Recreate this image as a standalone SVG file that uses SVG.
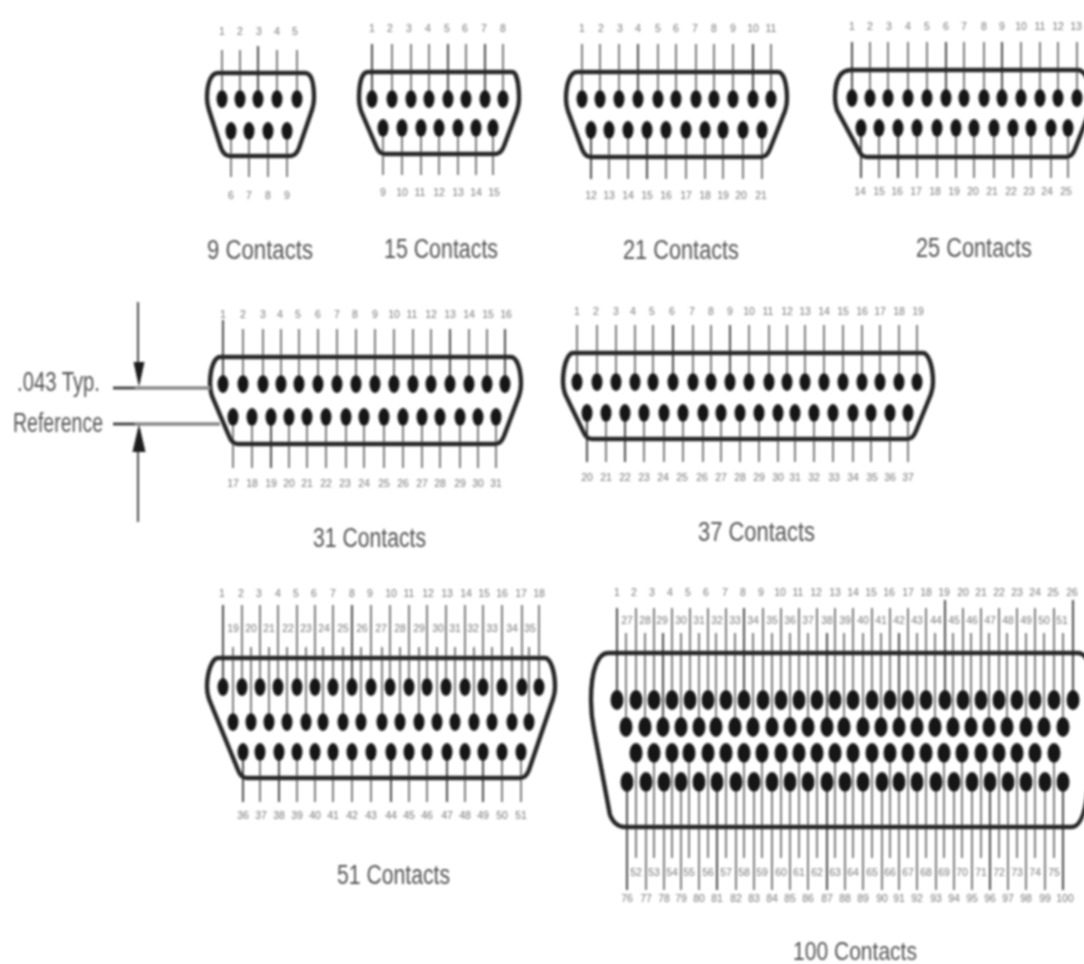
<svg xmlns="http://www.w3.org/2000/svg" width="1084" height="964" viewBox="0 0 1084 964">
<style>
text{font-family:"Liberation Sans",Arial,sans-serif}
.n text{font-size:10.5px;fill:#777;text-anchor:middle}
.cap{font-size:27px;fill:#555}
.s{fill:none;stroke:#262626;stroke-width:4.4}
.l{fill:none;stroke:#6a6a6a;stroke-width:1.7}
.d{fill:none;stroke:#222;stroke-width:1.6}
.pin{fill:#141414}
</style>
<defs>
<ellipse id="p" class="pin" rx="5.5" ry="9"/>
<ellipse id="q" class="pin" rx="6.5" ry="10"/>
<filter id="b" x="0" y="0" width="1" height="1"><feGaussianBlur stdDeviation="0.8"/></filter>
</defs>
<rect width="1084" height="964" fill="#fff"/>
<g filter="url(#b)">
<g id="c9">
<path class="l" d="M222 50V99M240 50V99M277 50V99M297 50V99M231 131V177M249 131V177M268 131V177M287 131V177"/>
<path class="d" d="M258 46V99"/>
<path class="s" d="M218 73H305C311 73 314 81 314 98Q314 104 312 110L299 148Q296 156 290 156H230Q224 156 221 148L209 110Q207 104 207 98C207 81 212 73 218 73Z"/>
<use href="#p" x="222" y="99"/><use href="#p" x="240" y="99"/><use href="#p" x="258" y="99"/><use href="#p" x="277" y="99"/><use href="#p" x="297" y="99"/>
<use href="#p" x="231" y="131"/><use href="#p" x="249" y="131"/><use href="#p" x="268" y="131"/><use href="#p" x="287" y="131"/>
<g class="n"><text x="222" y="35">1</text><text x="240" y="35">2</text><text x="259" y="35">3</text><text x="277" y="35">4</text><text x="295" y="35">5</text><text x="231" y="199">6</text><text x="249" y="199">7</text><text x="268" y="199">8</text><text x="287" y="199">9</text></g>
<text class="cap" x="207" y="259" textLength="106" lengthAdjust="spacingAndGlyphs">9 Contacts</text>
</g>
<g id="c15">
<path class="l" d="M392 44V99M411 44V99M429 44V99M466 44V99M503 44V99M383 128V175M402 128V175M421 128V175M439 128V175M458 128V175M476 128V175M493 128V175"/>
<path class="d" d="M372 44V99M448 44V99M485 44V99"/>
<path class="s" d="M368 72H512C516 72 519 82 519 99Q519 105 517 111L504 146Q501 154 495 154H385Q379 154 376 146L361 111Q359 105 359 99C359 82 362 72 368 72Z"/>
<use href="#p" x="372" y="99"/><use href="#p" x="392" y="99"/><use href="#p" x="411" y="99"/><use href="#p" x="429" y="99"/><use href="#p" x="448" y="99"/><use href="#p" x="466" y="99"/><use href="#p" x="485" y="99"/><use href="#p" x="503" y="99"/>
<use href="#p" x="383" y="128"/><use href="#p" x="402" y="128"/><use href="#p" x="421" y="128"/><use href="#p" x="439" y="128"/><use href="#p" x="458" y="128"/><use href="#p" x="476" y="128"/><use href="#p" x="493" y="128"/>
<g class="n"><text x="372" y="32">1</text><text x="390" y="32">2</text><text x="409" y="32">3</text><text x="428" y="32">4</text><text x="447" y="32">5</text><text x="465" y="32">6</text><text x="484" y="32">7</text><text x="503" y="32">8</text><text x="383" y="196">9</text><text x="402" y="196">10</text><text x="420" y="196">11</text><text x="439" y="196">12</text><text x="458" y="196">13</text><text x="476" y="196">14</text><text x="494" y="196">15</text></g>
<text class="cap" x="384" y="258" textLength="114" lengthAdjust="spacingAndGlyphs">15 Contacts</text>
</g>
<g id="c21">
<path class="l" d="M582 44V99M600 44V99M619 44V99M658 44V99M676 44V99M696 44V99M714 44V99M733 44V99M771 44V99M609 130V179M628 130V179M666 130V179M686 130V179M705 130V179M723 130V179M743 130V179M762 130V179"/>
<path class="d" d="M638 44V99M753 44V99M591 130V179M647 130V179"/>
<path class="s" d="M577 72H778C783 72 787 82 787 99Q787 105 785 111L770 149Q767 157 761 157H591Q585 157 582 149L568 111Q566 105 566 99C566 82 571 72 577 72Z"/>
<use href="#p" x="582" y="99"/><use href="#p" x="600" y="99"/><use href="#p" x="619" y="99"/><use href="#p" x="638" y="99"/><use href="#p" x="658" y="99"/><use href="#p" x="676" y="99"/><use href="#p" x="696" y="99"/><use href="#p" x="714" y="99"/><use href="#p" x="733" y="99"/><use href="#p" x="753" y="99"/><use href="#p" x="771" y="99"/>
<use href="#p" x="591" y="130"/><use href="#p" x="609" y="130"/><use href="#p" x="628" y="130"/><use href="#p" x="647" y="130"/><use href="#p" x="666" y="130"/><use href="#p" x="686" y="130"/><use href="#p" x="705" y="130"/><use href="#p" x="723" y="130"/><use href="#p" x="743" y="130"/><use href="#p" x="762" y="130"/>
<g class="n"><text x="582" y="32">1</text><text x="601" y="32">2</text><text x="620" y="32">3</text><text x="638" y="32">4</text><text x="658" y="32">5</text><text x="676" y="32">6</text><text x="695" y="32">7</text><text x="714" y="32">8</text><text x="733" y="32">9</text><text x="753" y="32">10</text><text x="771" y="32">11</text><text x="591" y="199">12</text><text x="609" y="199">13</text><text x="628" y="199">14</text><text x="647" y="199">15</text><text x="666" y="199">16</text><text x="686" y="199">17</text><text x="705" y="199">18</text><text x="723" y="199">19</text><text x="741" y="199">20</text><text x="761" y="199">21</text></g>
<text class="cap" x="623" y="259" textLength="116" lengthAdjust="spacingAndGlyphs">21 Contacts</text>
</g>
<g id="c25">
<path class="l" d="M870 42V98M888 42V98M908 42V98M927 42V98M964 42V98M984 42V98M1021 42V98M1040 42V98M1058 42V98M1077 42V98M879 128V178M917 128V178M937 128V178M956 128V178M974 128V178M994 128V178M1013 128V178M1031 128V178M1051 128V178M1068 128V178"/>
<path class="d" d="M852 42V98M946 42V98M1002 42V98M861 128V178M898 128V178"/>
<path class="s" d="M851 70H1078C1084 70 1092 82 1092 98Q1092 104 1090 110L1075 149Q1072 157 1066 157H867Q861 157 858 149L837 110Q835 104 835 98C835 80 840 70 851 70Z"/>
<use href="#p" x="852" y="98"/><use href="#p" x="870" y="98"/><use href="#p" x="888" y="98"/><use href="#p" x="908" y="98"/><use href="#p" x="927" y="98"/><use href="#p" x="946" y="98"/><use href="#p" x="964" y="98"/><use href="#p" x="984" y="98"/><use href="#p" x="1002" y="98"/><use href="#p" x="1021" y="98"/><use href="#p" x="1040" y="98"/><use href="#p" x="1058" y="98"/><use href="#p" x="1077" y="98"/>
<use href="#p" x="861" y="128"/><use href="#p" x="879" y="128"/><use href="#p" x="898" y="128"/><use href="#p" x="917" y="128"/><use href="#p" x="937" y="128"/><use href="#p" x="956" y="128"/><use href="#p" x="974" y="128"/><use href="#p" x="994" y="128"/><use href="#p" x="1013" y="128"/><use href="#p" x="1031" y="128"/><use href="#p" x="1051" y="128"/><use href="#p" x="1068" y="128"/>
<g class="n"><text x="852" y="30">1</text><text x="870" y="30">2</text><text x="889" y="30">3</text><text x="908" y="30">4</text><text x="927" y="30">5</text><text x="946" y="30">6</text><text x="964" y="30">7</text><text x="984" y="30">8</text><text x="1002" y="30">9</text><text x="1021" y="30">10</text><text x="1040" y="30">11</text><text x="1058" y="30">12</text><text x="1076" y="30">13</text><text x="860" y="195">14</text><text x="879" y="195">15</text><text x="897" y="195">16</text><text x="916" y="195">17</text><text x="935" y="195">18</text><text x="954" y="195">19</text><text x="973" y="195">20</text><text x="992" y="195">21</text><text x="1011" y="195">22</text><text x="1029" y="195">23</text><text x="1047" y="195">24</text><text x="1066" y="195">25</text></g>
<text class="cap" x="916" y="257" textLength="116" lengthAdjust="spacingAndGlyphs">25 Contacts</text>
</g>
<g id="c31">
<path class="l" d="M243 329V384M263 329V384M281 329V384M299 329V384M318 329V384M337 329V384M356 329V384M375 329V384M394 329V384M413 329V384M431 329V384M469 329V384M487 329V384M233 417V468M252 417V468M289 417V468M307 417V468M326 417V468M346 417V468M364 417V468M384 417V468M403 417V468M422 417V468M440 417V468M460 417V468M478 417V468M496 417V468"/>
<path class="d" d="M223 320V384M450 329V384M505 329V384M271 417V468"/>
<path class="s" d="M220 357H511C516 357 521 367 521 384Q521 390 519 396L504 436Q501 444 495 444H238Q232 444 229 436L212 396Q210 390 210 384C210 367 215 357 220 357Z"/>
<use href="#p" x="223" y="384"/><use href="#p" x="243" y="384"/><use href="#p" x="263" y="384"/><use href="#p" x="281" y="384"/><use href="#p" x="299" y="384"/><use href="#p" x="318" y="384"/><use href="#p" x="337" y="384"/><use href="#p" x="356" y="384"/><use href="#p" x="375" y="384"/><use href="#p" x="394" y="384"/><use href="#p" x="413" y="384"/><use href="#p" x="431" y="384"/><use href="#p" x="450" y="384"/><use href="#p" x="469" y="384"/><use href="#p" x="487" y="384"/><use href="#p" x="505" y="384"/>
<use href="#p" x="233" y="417"/><use href="#p" x="252" y="417"/><use href="#p" x="271" y="417"/><use href="#p" x="289" y="417"/><use href="#p" x="307" y="417"/><use href="#p" x="326" y="417"/><use href="#p" x="346" y="417"/><use href="#p" x="364" y="417"/><use href="#p" x="384" y="417"/><use href="#p" x="403" y="417"/><use href="#p" x="422" y="417"/><use href="#p" x="440" y="417"/><use href="#p" x="460" y="417"/><use href="#p" x="478" y="417"/><use href="#p" x="496" y="417"/>
<g class="n"><text x="223" y="318">1</text><text x="243" y="318">2</text><text x="263" y="318">3</text><text x="280" y="318">4</text><text x="298" y="318">5</text><text x="318" y="318">6</text><text x="337" y="318">7</text><text x="355" y="318">8</text><text x="375" y="318">9</text><text x="394" y="318">10</text><text x="412" y="318">11</text><text x="431" y="318">12</text><text x="450" y="318">13</text><text x="469" y="318">14</text><text x="488" y="318">15</text><text x="506" y="318">16</text><text x="233" y="487">17</text><text x="252" y="487">18</text><text x="271" y="487">19</text><text x="289" y="487">20</text><text x="307" y="487">21</text><text x="326" y="487">22</text><text x="345" y="487">23</text><text x="364" y="487">24</text><text x="384" y="487">25</text><text x="403" y="487">26</text><text x="422" y="487">27</text><text x="440" y="487">28</text><text x="460" y="487">29</text><text x="478" y="487">30</text><text x="496" y="487">31</text></g>
<text class="cap" x="313" y="547" textLength="113" lengthAdjust="spacingAndGlyphs">31 Contacts</text>
</g>
<g id="dimension">
<path d="M113 388H210M113 424H220" fill="none" stroke="#8a8a8a" stroke-width="3.5"/>
<path d="M113 388H135M113 424H135" fill="none" stroke="#333" stroke-width="2"/>
<path class="d" d="M138 302V370M138 445V522"/>
<path d="M133.500 362H144.500L139 387ZM132.500 452H145.500L139 424Z" fill="#1c1c1c"/>
<text class="cap" x="17" y="391" textLength="83" lengthAdjust="spacingAndGlyphs">.043 Typ.</text>
<text class="cap" x="13" y="432" textLength="90" lengthAdjust="spacingAndGlyphs">Reference</text>
</g>
<g id="c37">
<path class="l" d="M577 325V382M597 325V382M616 325V382M635 325V382M653 325V382M693 325V382M711 325V382M749 325V382M769 325V382M787 325V382M805 325V382M824 325V382M843 325V382M862 325V382M880 325V382M899 325V382M917 325V382M606 413V462M644 413V462M664 413V462M683 413V462M703 413V462M721 413V462M740 413V462M759 413V462M778 413V462M795 413V462M814 413V462M833 413V462M853 413V462M871 413V462M890 413V462M908 413V462"/>
<path class="d" d="M673 325V382M730 325V382M587 413V462M625 413V462"/>
<path class="s" d="M573 353H923C928 353 933 365 933 382Q933 388 931 394L916 431Q913 439 907 439H592Q586 439 583 431L565 394Q563 388 563 382C563 365 568 353 573 353Z"/>
<use href="#p" x="577" y="382"/><use href="#p" x="597" y="382"/><use href="#p" x="616" y="382"/><use href="#p" x="635" y="382"/><use href="#p" x="653" y="382"/><use href="#p" x="673" y="382"/><use href="#p" x="693" y="382"/><use href="#p" x="711" y="382"/><use href="#p" x="730" y="382"/><use href="#p" x="749" y="382"/><use href="#p" x="769" y="382"/><use href="#p" x="787" y="382"/><use href="#p" x="805" y="382"/><use href="#p" x="824" y="382"/><use href="#p" x="843" y="382"/><use href="#p" x="862" y="382"/><use href="#p" x="880" y="382"/><use href="#p" x="899" y="382"/><use href="#p" x="917" y="382"/>
<use href="#p" x="587" y="413"/><use href="#p" x="606" y="413"/><use href="#p" x="625" y="413"/><use href="#p" x="644" y="413"/><use href="#p" x="664" y="413"/><use href="#p" x="683" y="413"/><use href="#p" x="703" y="413"/><use href="#p" x="721" y="413"/><use href="#p" x="740" y="413"/><use href="#p" x="759" y="413"/><use href="#p" x="778" y="413"/><use href="#p" x="795" y="413"/><use href="#p" x="814" y="413"/><use href="#p" x="833" y="413"/><use href="#p" x="853" y="413"/><use href="#p" x="871" y="413"/><use href="#p" x="890" y="413"/><use href="#p" x="908" y="413"/>
<g class="n"><text x="577" y="315">1</text><text x="596" y="315">2</text><text x="616" y="315">3</text><text x="633" y="315">4</text><text x="652" y="315">5</text><text x="672" y="315">6</text><text x="692" y="315">7</text><text x="711" y="315">8</text><text x="730" y="315">9</text><text x="749" y="315">10</text><text x="768" y="315">11</text><text x="787" y="315">12</text><text x="805" y="315">13</text><text x="824" y="315">14</text><text x="843" y="315">15</text><text x="862" y="315">16</text><text x="880" y="315">17</text><text x="899" y="315">18</text><text x="918" y="315">19</text><text x="587" y="481">20</text><text x="606" y="481">21</text><text x="625" y="481">22</text><text x="644" y="481">23</text><text x="663" y="481">24</text><text x="682" y="481">25</text><text x="702" y="481">26</text><text x="721" y="481">27</text><text x="740" y="481">28</text><text x="759" y="481">29</text><text x="778" y="481">30</text><text x="795" y="481">31</text><text x="814" y="481">32</text><text x="834" y="481">33</text><text x="853" y="481">34</text><text x="872" y="481">35</text><text x="890" y="481">36</text><text x="908" y="481">37</text></g>
<text class="cap" x="698" y="541" textLength="117" lengthAdjust="spacingAndGlyphs">37 Contacts</text>
</g>
<g id="c51">
<path class="l" d="M242 605V687M260 605V687M278 605V687M297 605V687M315 605V687M333 605V687M371 605V687M390 605V687M409 605V687M427 605V687M446 605V687M465 605V687M483 605V687M502 605V687M522 605V687M539 605V687M233 647V722M251 647V722M269 647V722M287 647V722M306 647V722M323 647V722M343 647V722M361 647V722M382 647V722M400 647V722M419 647V722M437 647V722M455 647V722M474 647V722M492 647V722M512 647V722M529 647V722M260 752V802M297 752V802M315 752V802M333 752V802M352 752V802M371 752V802M409 752V802M427 752V802M465 752V802M502 752V802M521 752V802"/>
<path class="d" d="M223 605V687M352 605V687M243 752V802M279 752V802M391 752V802M447 752V802M483 752V802"/>
<path class="s" d="M218 658H545C550 658 555 670 555 687Q555 693 553 699L529 770Q526 778 520 778H247Q241 778 238 770L209 699Q207 693 207 687C207 670 213 658 218 658Z"/>
<use href="#p" x="223" y="687"/><use href="#p" x="242" y="687"/><use href="#p" x="260" y="687"/><use href="#p" x="278" y="687"/><use href="#p" x="297" y="687"/><use href="#p" x="315" y="687"/><use href="#p" x="333" y="687"/><use href="#p" x="352" y="687"/><use href="#p" x="371" y="687"/><use href="#p" x="390" y="687"/><use href="#p" x="409" y="687"/><use href="#p" x="427" y="687"/><use href="#p" x="446" y="687"/><use href="#p" x="465" y="687"/><use href="#p" x="483" y="687"/><use href="#p" x="502" y="687"/><use href="#p" x="522" y="687"/><use href="#p" x="539" y="687"/>
<use href="#p" x="233" y="722"/><use href="#p" x="251" y="722"/><use href="#p" x="269" y="722"/><use href="#p" x="287" y="722"/><use href="#p" x="306" y="722"/><use href="#p" x="323" y="722"/><use href="#p" x="343" y="722"/><use href="#p" x="361" y="722"/><use href="#p" x="382" y="722"/><use href="#p" x="400" y="722"/><use href="#p" x="419" y="722"/><use href="#p" x="437" y="722"/><use href="#p" x="455" y="722"/><use href="#p" x="474" y="722"/><use href="#p" x="492" y="722"/><use href="#p" x="512" y="722"/><use href="#p" x="529" y="722"/>
<use href="#p" x="243" y="752"/><use href="#p" x="260" y="752"/><use href="#p" x="279" y="752"/><use href="#p" x="297" y="752"/><use href="#p" x="315" y="752"/><use href="#p" x="333" y="752"/><use href="#p" x="352" y="752"/><use href="#p" x="371" y="752"/><use href="#p" x="391" y="752"/><use href="#p" x="409" y="752"/><use href="#p" x="427" y="752"/><use href="#p" x="447" y="752"/><use href="#p" x="465" y="752"/><use href="#p" x="483" y="752"/><use href="#p" x="502" y="752"/><use href="#p" x="521" y="752"/>
<g class="n"><text x="222" y="597">1</text><text x="241" y="597">2</text><text x="259" y="597">3</text><text x="278" y="597">4</text><text x="296" y="597">5</text><text x="314" y="597">6</text><text x="333" y="597">7</text><text x="352" y="597">8</text><text x="370" y="597">9</text><text x="391" y="597">10</text><text x="409" y="597">11</text><text x="428" y="597">12</text><text x="447" y="597">13</text><text x="466" y="597">14</text><text x="484" y="597">15</text><text x="502" y="597">16</text><text x="521" y="597">17</text><text x="539" y="597">18</text>
<text x="233" y="632">19</text><text x="251" y="632">20</text><text x="269" y="632">21</text><text x="288" y="632">22</text><text x="306" y="632">23</text><text x="324" y="632">24</text><text x="343" y="632">25</text><text x="362" y="632">26</text><text x="381" y="632">27</text><text x="400" y="632">28</text><text x="419" y="632">29</text><text x="438" y="632">30</text><text x="455" y="632">31</text><text x="473" y="632">32</text><text x="492" y="632">33</text><text x="512" y="632">34</text><text x="530" y="632">35</text>
<text x="243" y="819">36</text><text x="261" y="819">37</text><text x="279" y="819">38</text><text x="297" y="819">39</text><text x="315" y="819">40</text><text x="333" y="819">41</text><text x="352" y="819">42</text><text x="371" y="819">43</text><text x="391" y="819">44</text><text x="409" y="819">45</text><text x="427" y="819">46</text><text x="447" y="819">47</text><text x="465" y="819">48</text><text x="483" y="819">49</text><text x="502" y="819">50</text><text x="521" y="819">51</text></g>
<text class="cap" x="337" y="884" textLength="113" lengthAdjust="spacingAndGlyphs">51 Contacts</text>
</g>
<g id="c100">
<path class="l" d="M636 608V700M654 608V700M672 608V700M690 608V700M708 608V700M726 608V700M763 608V700M781 608V700M799 608V700M817 608V700M835 608V700M853 608V700M872 608V700M890 608V700M908 608V700M926 608V700M963 608V700M981 608V700M999 608V700M1017 608V700M1035 608V700M1054 608V700M626 633V727M645 633V727M681 633V727M699 633V727M716 633V727M735 633V727M753 633V727M772 633V727M790 633V727M808 633V727M844 633V727M863 633V727M881 633V727M917 633V727M935 633V727M953 633V727M971 633V727M989 633V727M1007 633V727M1026 633V727M1044 633V727M1063 633V727M636 753V858M654 753V858M672 753V858M689 753V858M708 753V858M726 753V858M744 753V858M762 753V858M781 753V858M799 753V858M817 753V858M835 753V858M853 753V858M872 753V858M890 753V858M908 753V858M926 753V858M944 753V858M962 753V858M981 753V858M999 753V858M1017 753V858M1035 753V858M1054 753V858M646 782V890M664 782V890M681 782V890M699 782V890M736 782V890M754 782V890M772 782V890M790 782V890M808 782V890M845 782V890M863 782V890M882 782V890M899 782V890M917 782V890M936 782V890M954 782V890M972 782V890M1008 782V890M1026 782V890M1045 782V890"/>
<path class="d" d="M617 608V700M744 608V700M945 600V700M1073 600V700M663 633V727M827 633V727M899 633V727M627 782V890M717 782V890M827 782V890M990 782V890M1063 782V890"/>
<path class="s" d="M608 653H1078C1085 653 1096 665 1096 700Q1096 725 1090 770Q1086 827 1072 827H625Q615 827 610 815L594 730Q591 715 591 700C591 670 598 653 608 653Z"/>
<use href="#q" x="617" y="700"/><use href="#q" x="636" y="700"/><use href="#q" x="654" y="700"/><use href="#q" x="672" y="700"/><use href="#q" x="690" y="700"/><use href="#q" x="708" y="700"/><use href="#q" x="726" y="700"/><use href="#q" x="744" y="700"/><use href="#q" x="763" y="700"/><use href="#q" x="781" y="700"/><use href="#q" x="799" y="700"/><use href="#q" x="817" y="700"/><use href="#q" x="835" y="700"/><use href="#q" x="853" y="700"/><use href="#q" x="872" y="700"/><use href="#q" x="890" y="700"/><use href="#q" x="908" y="700"/><use href="#q" x="926" y="700"/><use href="#q" x="945" y="700"/><use href="#q" x="963" y="700"/><use href="#q" x="981" y="700"/><use href="#q" x="999" y="700"/><use href="#q" x="1017" y="700"/><use href="#q" x="1035" y="700"/><use href="#q" x="1054" y="700"/><use href="#q" x="1073" y="700"/>
<use href="#q" x="626" y="727"/><use href="#q" x="645" y="727"/><use href="#q" x="663" y="727"/><use href="#q" x="681" y="727"/><use href="#q" x="699" y="727"/><use href="#q" x="716" y="727"/><use href="#q" x="735" y="727"/><use href="#q" x="753" y="727"/><use href="#q" x="772" y="727"/><use href="#q" x="790" y="727"/><use href="#q" x="808" y="727"/><use href="#q" x="827" y="727"/><use href="#q" x="844" y="727"/><use href="#q" x="863" y="727"/><use href="#q" x="881" y="727"/><use href="#q" x="899" y="727"/><use href="#q" x="917" y="727"/><use href="#q" x="935" y="727"/><use href="#q" x="953" y="727"/><use href="#q" x="971" y="727"/><use href="#q" x="989" y="727"/><use href="#q" x="1007" y="727"/><use href="#q" x="1026" y="727"/><use href="#q" x="1044" y="727"/><use href="#q" x="1063" y="727"/>
<use href="#q" x="636" y="753"/><use href="#q" x="654" y="753"/><use href="#q" x="672" y="753"/><use href="#q" x="689" y="753"/><use href="#q" x="708" y="753"/><use href="#q" x="726" y="753"/><use href="#q" x="744" y="753"/><use href="#q" x="762" y="753"/><use href="#q" x="781" y="753"/><use href="#q" x="799" y="753"/><use href="#q" x="817" y="753"/><use href="#q" x="835" y="753"/><use href="#q" x="853" y="753"/><use href="#q" x="872" y="753"/><use href="#q" x="890" y="753"/><use href="#q" x="908" y="753"/><use href="#q" x="926" y="753"/><use href="#q" x="944" y="753"/><use href="#q" x="962" y="753"/><use href="#q" x="981" y="753"/><use href="#q" x="999" y="753"/><use href="#q" x="1017" y="753"/><use href="#q" x="1035" y="753"/><use href="#q" x="1054" y="753"/>
<use href="#q" x="627" y="782"/><use href="#q" x="646" y="782"/><use href="#q" x="664" y="782"/><use href="#q" x="681" y="782"/><use href="#q" x="699" y="782"/><use href="#q" x="717" y="782"/><use href="#q" x="736" y="782"/><use href="#q" x="754" y="782"/><use href="#q" x="772" y="782"/><use href="#q" x="790" y="782"/><use href="#q" x="808" y="782"/><use href="#q" x="827" y="782"/><use href="#q" x="845" y="782"/><use href="#q" x="863" y="782"/><use href="#q" x="882" y="782"/><use href="#q" x="899" y="782"/><use href="#q" x="917" y="782"/><use href="#q" x="936" y="782"/><use href="#q" x="954" y="782"/><use href="#q" x="972" y="782"/><use href="#q" x="990" y="782"/><use href="#q" x="1008" y="782"/><use href="#q" x="1026" y="782"/><use href="#q" x="1045" y="782"/><use href="#q" x="1063" y="782"/>
<g class="n"><text x="617" y="596">1</text><text x="634" y="596">2</text><text x="652" y="596">3</text><text x="670" y="596">4</text><text x="688" y="596">5</text><text x="706" y="596">6</text><text x="725" y="596">7</text><text x="743" y="596">8</text><text x="761" y="596">9</text><text x="780" y="596">10</text><text x="798" y="596">11</text><text x="816" y="596">12</text><text x="835" y="596">13</text><text x="853" y="596">14</text><text x="871" y="596">15</text><text x="889" y="596">16</text><text x="908" y="596">17</text><text x="926" y="596">18</text><text x="944" y="596">19</text><text x="963" y="596">20</text><text x="981" y="596">21</text><text x="999" y="596">22</text><text x="1017" y="596">23</text><text x="1035" y="596">24</text><text x="1053" y="596">25</text><text x="1072" y="596">26</text>
<text x="627" y="624">27</text><text x="645" y="624">28</text><text x="662" y="624">29</text><text x="681" y="624">30</text><text x="699" y="624">31</text><text x="717" y="624">32</text><text x="735" y="624">33</text><text x="753" y="624">34</text><text x="772" y="624">35</text><text x="790" y="624">36</text><text x="808" y="624">37</text><text x="827" y="624">38</text><text x="845" y="624">39</text><text x="863" y="624">40</text><text x="881" y="624">41</text><text x="899" y="624">42</text><text x="917" y="624">43</text><text x="936" y="624">44</text><text x="954" y="624">45</text><text x="972" y="624">46</text><text x="990" y="624">47</text><text x="1008" y="624">48</text><text x="1026" y="624">49</text><text x="1044" y="624">50</text><text x="1062" y="624">51</text>
<text x="636" y="876">52</text><text x="654" y="876">53</text><text x="672" y="876">54</text><text x="689" y="876">55</text><text x="708" y="876">56</text><text x="726" y="876">57</text><text x="744" y="876">58</text><text x="762" y="876">59</text><text x="781" y="876">60</text><text x="799" y="876">61</text><text x="817" y="876">62</text><text x="835" y="876">63</text><text x="853" y="876">64</text><text x="872" y="876">65</text><text x="890" y="876">66</text><text x="908" y="876">67</text><text x="926" y="876">68</text><text x="944" y="876">69</text><text x="962" y="876">70</text><text x="981" y="876">71</text><text x="999" y="876">72</text><text x="1017" y="876">73</text><text x="1035" y="876">74</text><text x="1054" y="876">75</text>
<text x="627" y="902">76</text><text x="646" y="902">77</text><text x="664" y="902">78</text><text x="681" y="902">79</text><text x="699" y="902">80</text><text x="717" y="902">81</text><text x="736" y="902">82</text><text x="754" y="902">83</text><text x="772" y="902">84</text><text x="790" y="902">85</text><text x="808" y="902">86</text><text x="827" y="902">87</text><text x="845" y="902">88</text><text x="863" y="902">89</text><text x="882" y="902">90</text><text x="899" y="902">91</text><text x="917" y="902">92</text><text x="936" y="902">93</text><text x="954" y="902">94</text><text x="972" y="902">95</text><text x="990" y="902">96</text><text x="1008" y="902">97</text><text x="1026" y="902">98</text><text x="1045" y="902">99</text><text x="1065" y="902">100</text></g>
<text class="cap" x="793" y="960" textLength="124" lengthAdjust="spacingAndGlyphs" style="font-size:25px">100 Contacts</text>
</g>
</g>
</svg>
